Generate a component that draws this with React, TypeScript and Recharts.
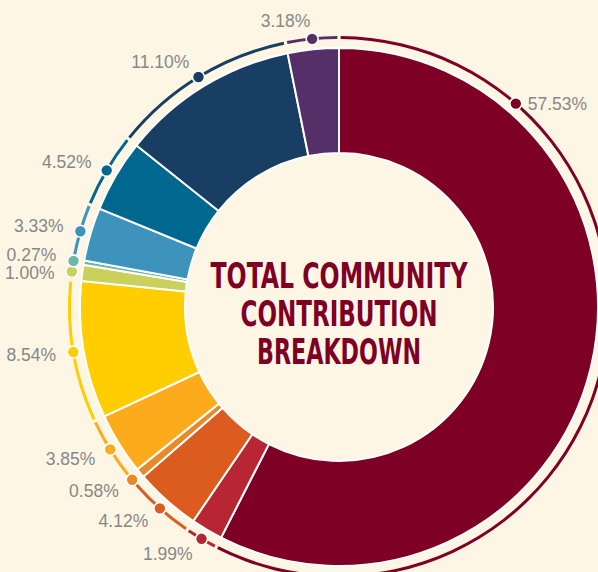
import { PieChart, Pie, Cell, Sector } from 'recharts';

// share of total contribution, clockwise from 12 o'clock
const shareValues = [57.53, 1.99, 4.12, 0.58, 3.85, 8.54, 1.0, 0.27, 3.33, 4.52, 11.1, 3.18];
const shareLabels = ['57.53%', '1.99%', '4.12%', '0.58%', '3.85%', '8.54%', '1.00%', '0.27%', '3.33%', '4.52%', '11.10%', '3.18%'];
const shareColors = [
  '#7f0025', '#b92633', '#dc5c20', '#e8892a', '#fbab1c', '#ffcd00',
  '#c9d15c', '#6bb7a6', '#3d93bc', '#00678f', '#183f63', '#553068',
];
const titleLines = ['TOTAL COMMUNITY', 'CONTRIBUTION', 'BREAKDOWN'];

const W = 598;
const H = 572;
const CX = 339;
const CY = 307;
const BG = '#fdf6e5';
const RING_R = 269.5;
const TEXT_R = 287;
const LEAD_ANGLE = 49; // the big slice's middle is off the page, so its marker sits higher up
const RAD = Math.PI / 180;

const data = shareValues.map((value, i) => ({ name: shareLabels[i], value }));

// label text positions, spread apart where neighbours crowd each other
const total = shareValues.reduce((a, b) => a + b, 0);
const labelPos = (() => {
  let cum = 0;
  const pos = shareValues.map((v, i) => {
    const mid = 90 - ((cum + v / 2) / total) * 360;
    cum += v;
    const a = i === 0 ? LEAD_ANGLE : mid;
    const dotX = CX + RING_R * Math.cos(a * RAD);
    const dotY = CY - RING_R * Math.sin(a * RAD);
    const right = dotX > CX;
    return {
      x: right ? dotX + 12 : CX + TEXT_R * Math.cos(a * RAD),
      y: right ? dotY : CY - TEXT_R * Math.sin(a * RAD),
      right,
    };
  });
  const left = pos.filter((p) => !p.right).sort((p, q) => p.y - q.y);
  for (let k = 0; k < 20; k++) {
    for (let j = 1; j < left.length; j++) {
      const d = left[j].y - left[j - 1].y;
      if (d < 18) {
        left[j].y += (18 - d) / 2;
        left[j - 1].y -= (18 - d) / 2;
      }
    }
  }
  return pos;
})();

const renderLabel = (props: any) => {
  const { cx, cy, midAngle, index } = props;
  const a = index === 0 ? LEAD_ANGLE : midAngle;
  const x = cx + RING_R * Math.cos(-a * RAD);
  const y = cy + RING_R * Math.sin(-a * RAD);
  const t = labelPos[index];
  return (
    <g key={`lbl-${index}`}>
      <circle cx={x} cy={y} r={6} fill={shareColors[index]} stroke="#ffffff" strokeWidth={1.6} />
      <text
        x={t.x}
        y={t.y}
        textAnchor={t.right ? 'start' : 'end'}
        dominantBaseline="central"
        fill="#878787"
        fontSize={17.5}
        fontFamily="'Liberation Sans', Arial, sans-serif"
      >
        {shareLabels[index]}
      </text>
    </g>
  );
};

const ringShape = (props: any) => (
  <Sector
    {...props}
    startAngle={props.startAngle - 0.35}
    endAngle={props.endAngle + 0.35}
    stroke="none"
  />
);

export default function App() {
  return (
    <div style={{ position: 'absolute', left: 0, top: 0, width: W, height: H, background: BG, overflow: 'hidden' }}>
      <PieChart width={W} height={H} margin={{ top: 0, right: 0, bottom: 0, left: 0 }}>
        <Pie
          data={data}
          dataKey="value"
          cx={CX}
          cy={CY}
          innerRadius={154}
          outerRadius={259}
          startAngle={90}
          endAngle={-270}
          stroke="#ffffff"
          strokeWidth={2}
          isAnimationActive={false}
        >
          {data.map((d, i) => (
            <Cell key={d.name} fill={shareColors[i]} />
          ))}
        </Pie>
        <Pie
          data={data}
          dataKey="value"
          cx={CX}
          cy={CY}
          innerRadius={268}
          outerRadius={271}
          startAngle={90}
          endAngle={-270}
          shape={ringShape}
          label={renderLabel}
          labelLine={false}
          isAnimationActive={false}
        >
          {data.map((d, i) => (
            <Cell key={d.name} fill={shareColors[i]} />
          ))}
        </Pie>
      </PieChart>
      <svg width={W} height={H} style={{ position: 'absolute', left: 0, top: 0, pointerEvents: 'none' }}>
        {titleLines.map((line, i) => (
          <text
            key={line}
            x={CX}
            y={275 + i * 38}
            textAnchor="middle"
            dominantBaseline="central"
            fill="#7f0025"
            fontSize={36}
            fontWeight={700}
            fontFamily="'Liberation Sans Narrow', 'DejaVu Sans Condensed', sans-serif"
            textLength={[257, 197, 164][i]}
            lengthAdjust="spacingAndGlyphs"
          >
            {line}
          </text>
        ))}
      </svg>
    </div>
  );
}
